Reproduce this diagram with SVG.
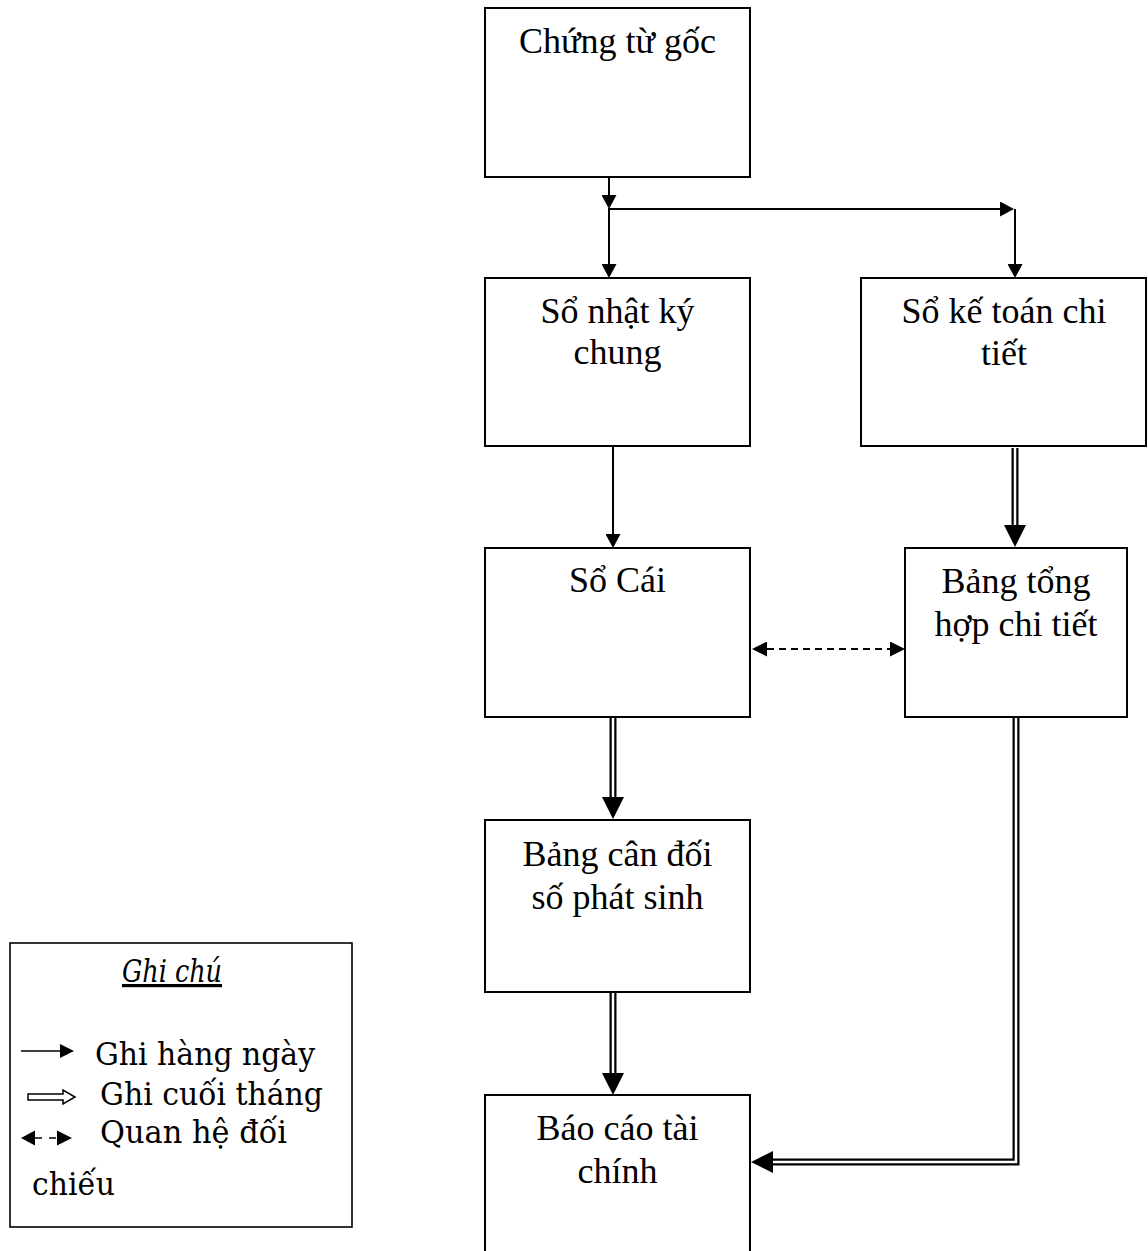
<svg xmlns="http://www.w3.org/2000/svg" width="1148" height="1251" viewBox="0 0 1148 1251">
  <style>
    .box { fill: #fff; stroke: #000; stroke-width: 2; }
    .lbl { font-family: "Liberation Serif", "Times New Roman", serif; font-size: 36px; fill: #000; text-anchor: middle; }
    .thin { fill: none; stroke: #000; stroke-width: 2; }
    .dash { fill: none; stroke: #000; stroke-width: 2; stroke-dasharray: 7 5; }
    .dbl { fill: none; stroke: #000; stroke-width: 7; stroke-linejoin: miter; }
    .dbl-in { fill: none; stroke: #fff; stroke-width: 2.5; stroke-linejoin: miter; }
    .key { font-family: "DejaVu Serif", serif; font-size: 32px; fill: #000; }
    .legend-box { fill: #fff; stroke: #000; stroke-width: 1.6; }
  </style>
  <defs>
    <marker id="arr" markerUnits="userSpaceOnUse" viewBox="0 0 14 15" markerWidth="14" markerHeight="15" refX="0" refY="7.5" orient="auto">
      <path d="M0,0 L14,7.5 L0,15 Z" fill="#000"/>
    </marker>
    <marker id="arrD" markerUnits="userSpaceOnUse" viewBox="0 0 15 15" markerWidth="15" markerHeight="15" refX="0" refY="7.5" orient="auto-start-reverse">
      <path d="M0,0 L15,7.5 L0,15 Z" fill="#000"/>
    </marker>
    <marker id="big" markerUnits="userSpaceOnUse" viewBox="0 0 22 22" markerWidth="22" markerHeight="22" refX="0" refY="11" orient="auto">
      <path d="M0,0 L22,11 L0,22 Z" fill="#000"/>
    </marker>
  </defs>

  <!-- nodes -->
  <g id="chung-tu-goc">
    <rect class="box" x="485" y="8" width="265" height="169"/>
    <text class="lbl" x="617.5" y="53">Chứng từ gốc</text>
  </g>
  <g id="so-nhat-ky-chung">
    <rect class="box" x="485" y="278" width="265" height="168"/>
    <text class="lbl" x="617.5" y="323">Sổ nhật ký</text>
    <text class="lbl" x="617.5" y="364">chung</text>
  </g>
  <g id="so-ke-toan-chi-tiet">
    <rect class="box" x="861" y="278" width="285" height="168"/>
    <text class="lbl" x="1004" y="323">Sổ kế toán chi</text>
    <text class="lbl" x="1004" y="365">tiết</text>
  </g>
  <g id="so-cai">
    <rect class="box" x="485" y="548" width="265" height="169"/>
    <text class="lbl" x="617.5" y="592">Sổ Cái</text>
  </g>
  <g id="bang-tong-hop-chi-tiet">
    <rect class="box" x="905" y="548" width="222" height="169"/>
    <text class="lbl" x="1016" y="593">Bảng tổng</text>
    <text class="lbl" x="1016" y="636">hợp chi tiết</text>
  </g>
  <g id="bang-can-doi">
    <rect class="box" x="485" y="820" width="265" height="172"/>
    <text class="lbl" x="617.5" y="866">Bảng cân đối</text>
    <text class="lbl" x="617.5" y="909">số phát sinh</text>
  </g>
  <g id="bao-cao-tai-chinh">
    <rect class="box" x="485" y="1095" width="265" height="180"/>
    <text class="lbl" x="617.5" y="1140">Báo cáo tài</text>
    <text class="lbl" x="617.5" y="1183">chính</text>
  </g>

  <!-- connectors -->
  <g id="connectors">
    <path class="thin" d="M609,177 V195" marker-end="url(#arr)"/>
    <path class="thin" d="M609,208 V264" marker-end="url(#arr)"/>
    <path class="thin" d="M609,209 H1000" marker-end="url(#arr)"/>
    <path class="thin" d="M1015,209 V264" marker-end="url(#arr)"/>
    <path class="thin" d="M613,447 V534" marker-end="url(#arr)"/>

    <path class="dash" d="M767,649 H890" marker-start="url(#arrD)" marker-end="url(#arrD)"/>

    <path class="dbl" d="M1015,448 V525" marker-end="url(#big)"/>
    <path class="dbl-in" d="M1015,448 V525"/>
    <path class="dbl" d="M613,718 V797" marker-end="url(#big)"/>
    <path class="dbl-in" d="M613,718 V797"/>
    <path class="dbl" d="M613,993 V1073" marker-end="url(#big)"/>
    <path class="dbl-in" d="M613,993 V1073"/>
    <path class="dbl" d="M1016,718 V1162 H773" marker-end="url(#big)"/>
    <path class="dbl-in" d="M1016,718 V1162 H773"/>
  </g>

  <!-- legend -->
  <g id="legend">
    <rect class="legend-box" x="10" y="943" width="342" height="284"/>
    <text class="key" x="122" y="982" font-style="italic" text-decoration="underline" textLength="100" lengthAdjust="spacingAndGlyphs">Ghi chú</text>

    <path d="M21,1051 H61" stroke="#000" stroke-width="1.6" fill="none"/>
    <path d="M60,1044 L74,1051 L60,1058 Z" fill="#000"/>
    <text class="key" x="95" y="1065" textLength="220" lengthAdjust="spacingAndGlyphs">Ghi hàng ngày</text>

    <path d="M28,1094 H63 V1090 L75,1097 L63,1104 V1100 H28 Z" fill="#fff" stroke="#000" stroke-width="1.5"/>
    <text class="key" x="100" y="1105" textLength="223" lengthAdjust="spacingAndGlyphs">Ghi cuối tháng</text>

    <path d="M21,1138 L35,1130.5 V1145.5 Z" fill="#000"/>
    <path d="M35,1138 H42 M49,1138 H56" stroke="#000" stroke-width="1.6" fill="none"/>
    <path d="M72,1138 L57,1130.5 V1145.5 Z" fill="#000"/>
    <text class="key" x="100" y="1143" textLength="187" lengthAdjust="spacingAndGlyphs">Quan hệ đối</text>

    <text class="key" x="32" y="1195" textLength="83" lengthAdjust="spacingAndGlyphs">chiếu</text>
  </g>
</svg>
